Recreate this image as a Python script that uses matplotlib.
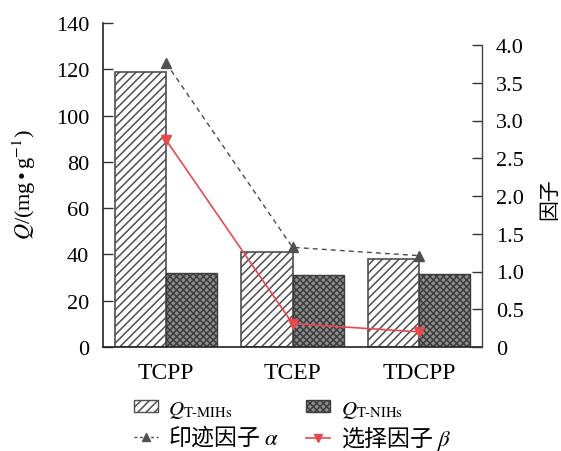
import matplotlib
matplotlib.use("Agg")
import matplotlib.pyplot as plt
import numpy as np
from matplotlib.lines import Line2D
from matplotlib.patches import Patch

# Data
categories = ["TCPP", "TCEP", "TDCPP"]
q_mih = [119.0, 41.0, 38.0]      # Q of T-MIHs, mg/g
q_nih = [32.0, 31.0, 31.5]       # Q of T-NIHs, mg/g
alpha_imprint = [3.76, 1.32, 1.21]
beta_select = [2.74, 0.31, 0.20]

left_ticks = [0, 20, 40, 60, 80, 100, 120, 140]
right_ticks = [0, 0.5, 1.0, 1.5, 2.0, 2.5, 3.0, 3.5, 4.0]
right_ticklabels = ["0", "0.5", "1.0", "1.5", "2.0", "2.5", "3.0", "3.5", "4.0"]

plt.rcParams["font.family"] = ["Liberation Serif", "Noto Sans CJK SC", "DejaVu Sans"]
plt.rcParams["mathtext.fontset"] = "stix"
plt.rcParams["hatch.linewidth"] = 1.1

fig = plt.figure(figsize=(5.61, 4.52), dpi=100)
ax = fig.add_axes([103 / 561, 1 - 348 / 452, 379 / 561, 324 / 452])
ax2 = ax.twinx()

x = np.arange(len(categories))
w = 0.405
edge_mih = "#4f4f4f"
face_nih = "#8e8e8e"
edge_nih = "#3c3c3c"

ax.bar(x - w / 2, q_mih, width=w, facecolor="white", edgecolor=edge_mih,
       hatch="////", linewidth=1.2, zorder=2)
ax.bar(x + w / 2, q_nih, width=w, facecolor=face_nih, edgecolor=edge_nih,
       hatch="xxxxx", linewidth=1.0, zorder=2)

ax.set_xlim(-0.5, 2.5)
ax.set_ylim(0, 140)
ax.set_yticks(left_ticks)
ax.set_xticks(x)
ax.set_xticklabels(categories)
ax.tick_params(axis="both", direction="in", width=1.0, color="#333333")
ax.tick_params(axis="x", length=5, pad=11, labelsize=17)
ax.tick_params(axis="y", length=7, pad=10, labelsize=16)
for s in ["top", "right"]:
    ax.spines[s].set_visible(False)
ax.spines["left"].set_bounds(0, 140)
for s in ["left", "bottom"]:
    ax.spines[s].set_linewidth(1.2)
    ax.spines[s].set_color("#222222")

ax.set_ylabel("$Q$/(mg$\\,$•$\\,$g$^{-1}$)", fontsize=16)
ax.yaxis.set_label_coords(-0.172, 0.505)

# Right axis: imprint and selectivity factors
ax2.plot(x, alpha_imprint, linestyle=(0, (3.5, 3)), color="#4a4a4a", lw=1.0,
         marker="^", markersize=7, markerfacecolor="#505050",
         markeredgecolor="#505050", zorder=3)
ax2.plot(x, beta_select, linestyle="-", color="#e8484f", lw=1.2,
         marker="v", markersize=7, markerfacecolor="#e8484f",
         markeredgecolor="#e8484f", zorder=3)
ax2.set_ylim(0, 4.0 * 324 / 302)
ax2.set_yticks(right_ticks)
ax2.set_yticklabels(right_ticklabels)
ax2.tick_params(axis="y", direction="in", length=7, width=1.0, labelsize=16,
                pad=10, color="#333333")
for s in ["top", "left", "bottom"]:
    ax2.spines[s].set_visible(False)
ax2.spines["right"].set_bounds(0, 4.0)
ax2.spines["right"].set_color("#444444")
ax2.spines["right"].set_linewidth(1.0)
ax2.set_ylabel("因子", fontsize=15, family=["Noto Sans CJK SC"])
ax2.yaxis.set_label_coords(1.148, 0.46)

# Legend
handles = [
    Patch(facecolor="white", edgecolor=edge_mih, hatch="////", linewidth=1.0),
    Line2D([], [], linestyle=(0, (2, 2)), color="#4a4a4a", lw=1.0, marker="^",
           markersize=6, markerfacecolor="#505050", markeredgecolor="#505050"),
    Patch(facecolor=face_nih, edgecolor=edge_nih, hatch="xxxxx", linewidth=1.0),
    Line2D([], [], linestyle="-", color="#e8484f", lw=1.2, marker="v",
           markersize=6, markerfacecolor="#e8484f", markeredgecolor="#e8484f"),
]
labels = [
    r"$Q_{\mathrm{T\text{-}MIHs}}$",
    r"印迹因子 $\alpha$",
    r"$Q_{\mathrm{T\text{-}NIHs}}$",
    r"选择因子 $\beta$",
]
leg = fig.legend(handles, labels, ncol=2, loc="upper left",
                 bbox_to_anchor=(119 / 561, 1 - 383 / 452), frameon=False,
                 prop={"family": ["Noto Sans CJK SC"], "size": 15},
                 handlelength=1.15, handleheight=0.5, handletextpad=0.5,
                 columnspacing=1.3, labelspacing=0.15, borderpad=0.2)
for t in leg.get_texts():
    if "因子" in t.get_text():
        t.set_fontsize(16.5)

fig.savefig("out.png", dpi=100)
